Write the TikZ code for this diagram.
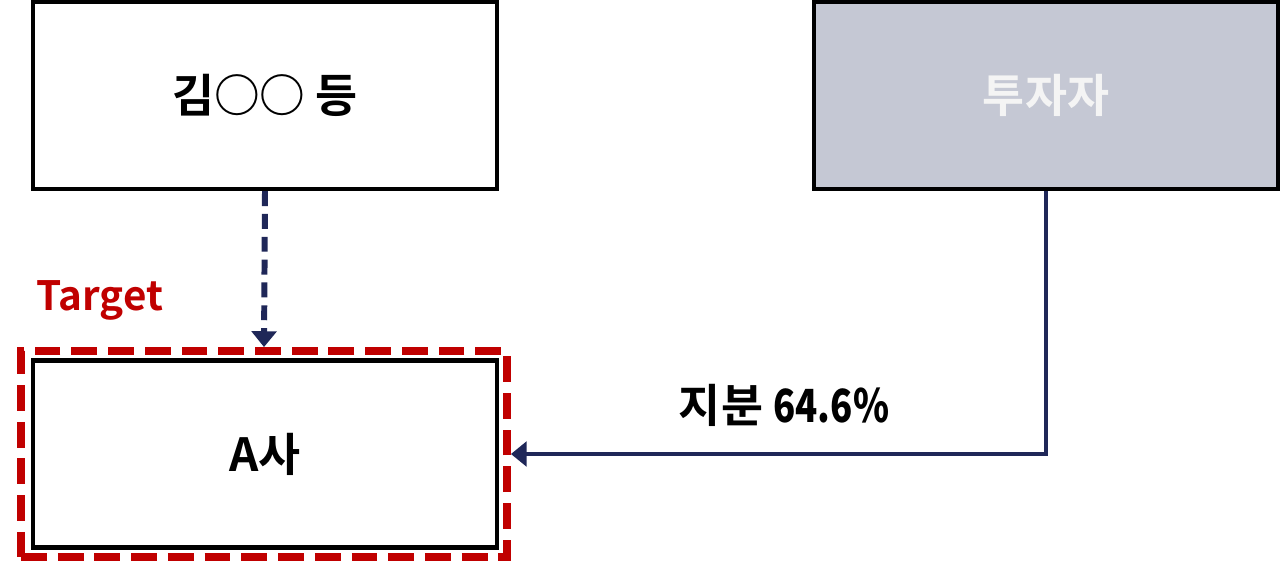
\documentclass[tikz,border=0pt]{standalone}
\usepackage{fontspec}
\setmainfont{Noto Sans CJK KR}[BoldFont=* Bold]
\newfontfamily\narrowdigits{Noto Sans CJK KR}[UprightFont=* Bold, FakeStretch=0.8]
\usetikzlibrary{arrows.meta}

\definecolor{navy}{HTML}{1F2758}
\definecolor{darkred}{HTML}{C00000}
\definecolor{invgrey}{HTML}{C5C8D4}
\definecolor{paletext}{HTML}{F4F4F4}

\tikzset{
  box/.style={draw=black, line width=2.4pt, fill=white, minimum width=9.28cm, minimum height=3.74cm,
    font=\fontsize{26}{30}\selectfont\bfseries},
  greybox/.style={box, fill=invgrey, text=paletext},
  targetframe/.style={draw=darkred, line width=4.5pt, dash pattern=on 14.7pt off 6.2pt,
    minimum width=9.72cm, minimum height=4.12cm},
  dlink/.style={draw=navy, line width=3.4pt, dash pattern=on 8.5pt off 4.5pt,
    -{Triangle[width=14pt, length=9pt]}},
  link/.style={draw=navy, line width=2.4pt, -{Triangle[width=14pt, length=9pt]}}
}

\begin{document}
\begin{tikzpicture}[x=0.02cm, y=-0.02cm]

\useasboundingbox (0, 0) rectangle (1280, 562);

\node[box] (kim) at (265, 95.5) {김○○ 등};
\node[greybox] (investor) at (1046, 95.5) {투자자};

\node[targetframe] (target) at (264, 454) {};
\node[box] (firm) at (265, 454) {A사};

\node[text=darkred, font=\fontsize{23}{28}\selectfont\bfseries] (targetlabel) at (100, 300) {Target};

\draw[dlink] (kim.south) -- (target.north);
\draw[link] (investor.south) |- (target.east);

\node[font=\fontsize{26}{30}\selectfont\bfseries] (share) at (784, 405) {지분 {\narrowdigits 64.6\%}};

\end{tikzpicture}
\end{document}
